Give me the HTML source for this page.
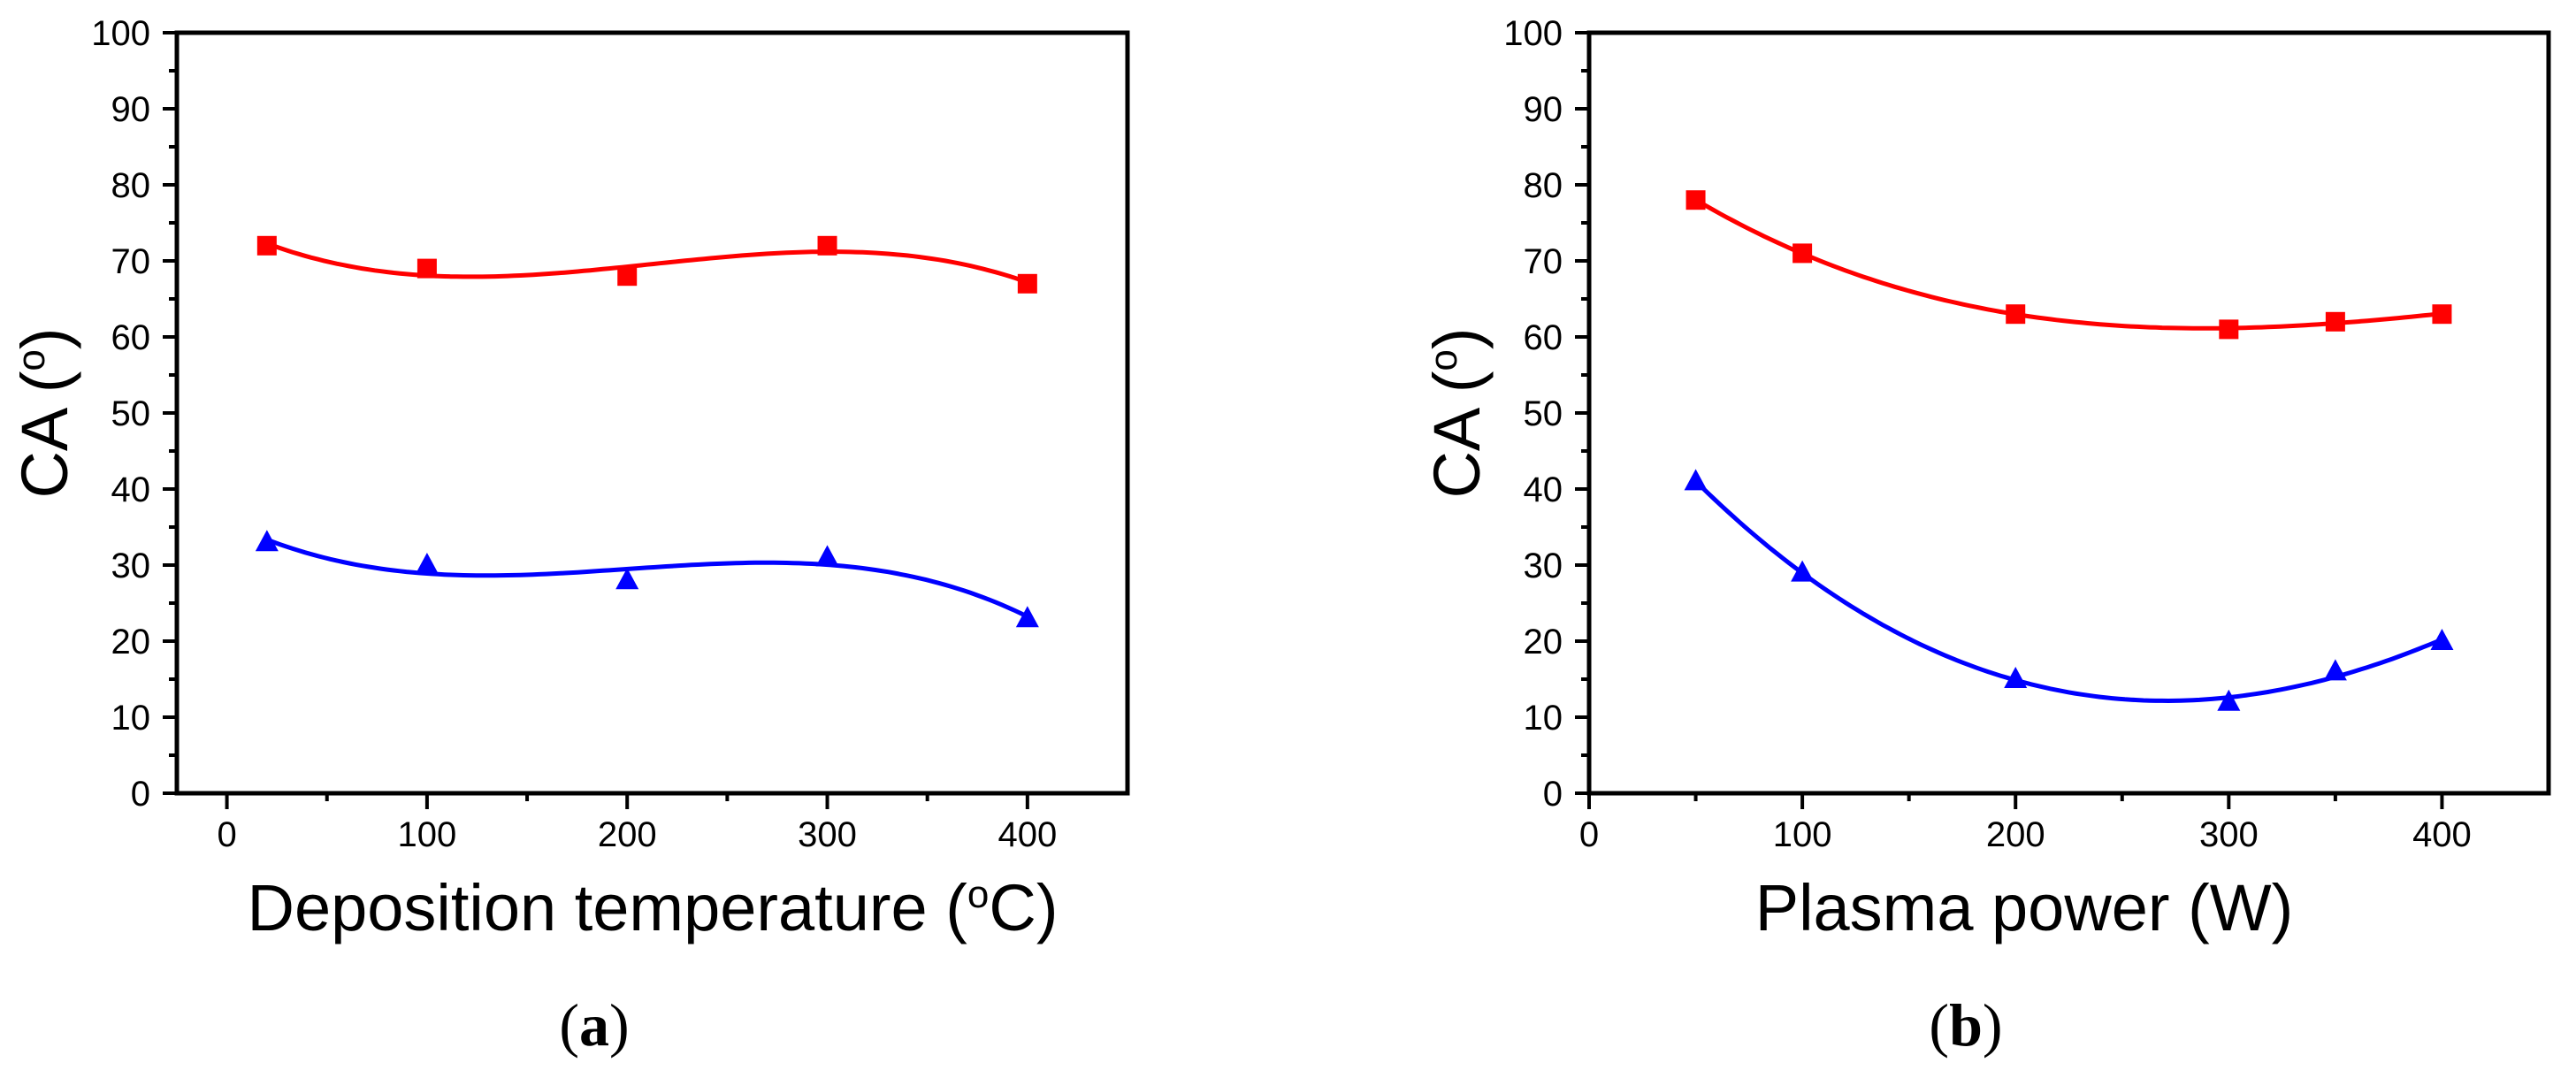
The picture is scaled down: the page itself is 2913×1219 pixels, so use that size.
<!DOCTYPE html>
<html><head><meta charset="utf-8"><style>
html,body{margin:0;padding:0;background:#fff;}
svg{display:block;}
text{font-family:"Liberation Sans",Arial,sans-serif;fill:#000;}
.lab{font-family:"Liberation Serif","Times New Roman",serif;}
</style></head>
<body>
<svg id="chart" width="2913" height="1219" viewBox="0 0 2913 1219" xmlns="http://www.w3.org/2000/svg"></svg>
<script>
// Panel (a) data
const tempX = [20, 100, 200, 300, 400];
const tempRed = [72, 69, 68, 72, 67];
const tempBlue = [33, 30, 28, 31, 23];
// Panel (b) data
const powerX = [50, 100, 200, 300, 350, 400];
const powerRed = [78, 71, 63, 61, 62, 63];
const powerBlue = [41, 29, 15, 12, 16, 20];
// Tick labels
const yTicks = [0, 10, 20, 30, 40, 50, 60, 70, 80, 90, 100];
const xTicks = [0, 100, 200, 300, 400];

const NS = "http://www.w3.org/2000/svg";
const svg = document.getElementById('chart');
function mk(tag, attrs, parent) {
  const e = document.createElementNS(NS, tag);
  for (const k in attrs) e.setAttribute(k, attrs[k]);
  (parent || svg).appendChild(e);
  return e;
}
function polyfit(xs, ys, deg) {
  const n = deg + 1;
  const A = [], b = [];
  for (let i = 0; i < n; i++) { A.push(new Array(n).fill(0)); b.push(0); }
  const s = 100;
  xs.forEach((x0, k) => {
    const x = x0 / s;
    for (let i = 0; i < n; i++) {
      b[i] += ys[k] * Math.pow(x, i);
      for (let j = 0; j < n; j++) A[i][j] += Math.pow(x, i + j);
    }
  });
  for (let i = 0; i < n; i++) {
    let p = i;
    for (let r = i + 1; r < n; r++) if (Math.abs(A[r][i]) > Math.abs(A[p][i])) p = r;
    [A[i], A[p]] = [A[p], A[i]]; [b[i], b[p]] = [b[p], b[i]];
    for (let r = i + 1; r < n; r++) {
      const f = A[r][i] / A[i][i];
      for (let c = i; c < n; c++) A[r][c] -= f * A[i][c];
      b[r] -= f * b[i];
    }
  }
  const c = new Array(n).fill(0);
  for (let i = n - 1; i >= 0; i--) {
    let v = b[i];
    for (let j = i + 1; j < n; j++) v -= A[i][j] * c[j];
    c[i] = v / A[i][i];
  }
  return x => c.reduce((acc, ci, i) => acc + ci * Math.pow(x / s, i), 0);
}

function panel(cfg) {
  const g = mk('g', {});
  
  
  const top = 37, bot = 897;
  const sx = v => cfg.x0 + (v - cfg.xmin) / (cfg.xmax - cfg.xmin) * (cfg.x1 - cfg.x0);
  const sy = v => bot - v / 100 * (bot - top);
  const frame = mk('rect', {x: cfg.x0, y: top, width: cfg.x1 - cfg.x0, height: bot - top, fill: 'none', stroke: '#000', 'stroke-width': 5}, g);
  
  
  for (let v = 0; v <= 100; v += 5) {
    const major = v % 10 === 0;
    const t = mk('line', {x1: cfg.x0 - (major ? 16 : 9), x2: cfg.x0, y1: sy(v), y2: sy(v), stroke: '#000', 'stroke-width': 4}, g);
    
    
  }
  yTicks.forEach(v => {
    const t = mk('text', {x: cfg.x0 - 30, y: sy(v) + 14, 'text-anchor': 'end', 'font-size': 40}, g);
    t.textContent = v;
    
    
  });
  for (let v = 0; v <= 450; v += 50) {
    if (v < cfg.xmin || v > cfg.xmax - 1) continue;
    const major = v % 100 === 0;
    const t = mk('line', {x1: sx(v), x2: sx(v), y1: bot, y2: bot + (major ? 18 : 9), stroke: '#000', 'stroke-width': 4}, g);
    
    
  }
  xTicks.forEach(v => {
    const t = mk('text', {x: sx(v), y: 957, 'text-anchor': 'middle', 'font-size': 40}, g);
    t.textContent = v;
    
    
  });
  const yt = mk('text', {x: 0, y: 0, 'font-size': 74, 'text-anchor': 'middle', transform: `translate(${cfg.x0 - 124},467) rotate(-90)`}, g);
  yt.innerHTML = 'CA (<tspan font-size="44" dy="-26">o</tspan><tspan dy="26">)</tspan>';
  
  
  const xt = mk('text', {x: cfg.titleX, y: 1052, 'font-size': 74, 'text-anchor': 'middle'}, g);
  xt.innerHTML = cfg.title;
  
  
  const pl = mk('text', {x: cfg.titleX - 66, y: 1182, 'font-size': 68, 'text-anchor': 'middle', class: 'lab'}, g);
  pl.innerHTML = '(<tspan font-weight="bold">' + cfg.label + '</tspan>)';
  
  
  cfg.series.forEach(s => {
    const f = polyfit(cfg.xs, s.ys, 3);
    const a = cfg.xs[0], b = cfg.xs[cfg.xs.length - 1];
    let d = '';
    for (let i = 0; i <= 120; i++) {
      const x = a + (b - a) * i / 120;
      d += (i ? 'L' : 'M') + sx(x).toFixed(1) + ' ' + sy(f(x)).toFixed(1);
    }
    const p = mk('path', {d: d, fill: 'none', stroke: s.color, 'stroke-width': 5}, g);
    
    
    cfg.xs.forEach((x, i) => {
      const cx = sx(x), cy = sy(s.ys[i]);
      let m;
      if (s.marker === 'square') {
        m = mk('rect', {x: cx - 11, y: cy - 11, width: 22, height: 22, fill: s.color}, g);
      } else {
        m = mk('polygon', {points: `${cx},${cy - 14} ${cx - 13},${cy + 10} ${cx + 13},${cy + 10}`, fill: s.color}, g);
      }
      
      
    });
  });
}

panel({name: 'panel-a', x0: 200, x1: 1275, xmin: -25, xmax: 450, xs: tempX,
  title: 'Deposition temperature (<tspan font-size="44" dy="-26">o</tspan><tspan dy="26">C)</tspan>',
  titleX: 738, label: 'a',
  series: [{name: 'red', ys: tempRed, color: '#ff0000', marker: 'square'},
           {name: 'blue', ys: tempBlue, color: '#0000ff', marker: 'triangle'}]});
panel({name: 'panel-b', x0: 1797, x1: 2882, xmin: 0, xmax: 450, xs: powerX,
  title: 'Plasma power (W)', titleX: 2289, label: 'b',
  series: [{name: 'red', ys: powerRed, color: '#ff0000', marker: 'square'},
           {name: 'blue', ys: powerBlue, color: '#0000ff', marker: 'triangle'}]});
</script>
</body></html>
